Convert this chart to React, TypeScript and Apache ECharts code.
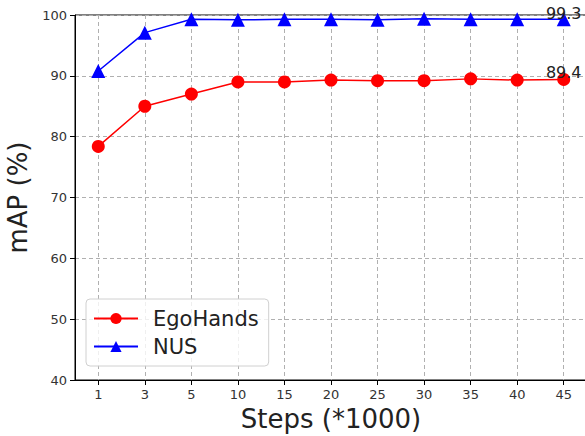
import React, { useEffect, useRef } from "react";
import * as echarts from "echarts";

const steps = ["1", "3", "5", "10", "15", "20", "25", "30", "35", "40", "45"];
const egoHands = [78.4, 85.0, 87.0, 89.0, 89.0, 89.3, 89.2, 89.2, 89.5, 89.3, 89.4];
const nus = [90.8, 97.1, 99.3, 99.2, 99.3, 99.3, 99.2, 99.4, 99.3, 99.3, 99.3];
const seriesNames = ["EgoHands", "NUS"];

const FONT = "DejaVu Sans";

export default function App() {
  const ref = useRef<HTMLDivElement>(null);
  useEffect(() => {
    if (!ref.current) return;
    const chart = echarts.init(ref.current, null, { renderer: "svg" });
    const lastIdx = steps.length - 1;
    const endLabel = (dist: number) => ({
      show: true,
      position: "top",
      distance: dist,
      fontFamily: FONT,
      fontSize: 16,
      color: "#222",
      formatter: (p: any) => (p.dataIndex === lastIdx ? Number(p.value).toFixed(1) : ""),
    });
    chart.setOption({
      animation: false,
      textStyle: { fontFamily: FONT },
      grid: {
        left: 75,
        top: 15,
        right: -2,
        bottom: 56,
        show: true,
        borderColor: "#000",
        borderWidth: 1,
        containLabel: false,
        outerBoundsMode: "none",
      },
      legend: {
        data: seriesNames,
        orient: "vertical",
        left: 86,
        top: 299,
        padding: [9, 10, 9, 7],
        itemGap: 7,
        itemWidth: 44,
        itemHeight: 14,
        backgroundColor: "rgba(255,255,255,0.8)",
        borderColor: "#d0d0d0",
        borderWidth: 1,
        borderRadius: 4,
        textStyle: { fontFamily: FONT, fontSize: 21, color: "#222", padding: [0, 0, 0, 10] },
      },
      xAxis: {
        type: "category",
        data: steps,
        boundaryGap: true,
        name: "Steps (*1000)",
        nameLocation: "middle",
        nameGap: 25,
        nameTextStyle: { fontFamily: FONT, fontSize: 26, color: "#222" },
        axisLine: { show: true, lineStyle: { color: "#000", width: 1 } },
        axisTick: { show: true, alignWithLabel: true, length: 5, lineStyle: { color: "#000" } },
        axisLabel: { fontFamily: FONT, fontSize: 13, color: "#333", margin: 8 },
        splitLine: {
          show: true,
          alignWithLabel: true,
          lineStyle: { color: "#b0b0b0", type: [4, 3], width: 1 },
        },
      },
      yAxis: {
        type: "value",
        min: 40,
        max: 100,
        interval: 10,
        name: "mAP (%)",
        nameLocation: "middle",
        nameGap: 38,
        nameTextStyle: { fontFamily: FONT, fontSize: 26, color: "#222" },
        axisLine: { show: true, lineStyle: { color: "#000", width: 1 } },
        axisTick: { show: true, length: 5, lineStyle: { color: "#000" } },
        axisLabel: { fontFamily: FONT, fontSize: 13, color: "#333", margin: 8 },
        splitLine: { show: true, lineStyle: { color: "#b0b0b0", type: [4, 3], width: 1 } },
      },
      series: [
        {
          name: seriesNames[0],
          type: "line",
          data: egoHands,
          symbol: "circle",
          symbolSize: 13,
          color: "#ff0000",
          lineStyle: { color: "#ff0000", width: 1.5 },
          itemStyle: { color: "#ff0000" },
          label: endLabel(-8),
        },
        {
          name: seriesNames[1],
          type: "line",
          data: nus,
          symbol: "triangle",
          symbolSize: 14,
          color: "#0000ff",
          lineStyle: { color: "#0000ff", width: 1.5 },
          itemStyle: { color: "#0000ff" },
          label: endLabel(-9),
        },
      ],
    });
    return () => chart.dispose();
  }, []);
  return <div ref={ref} style={{ width: 585, height: 436, position: "absolute", left: 0, top: 0 }} />;
}
